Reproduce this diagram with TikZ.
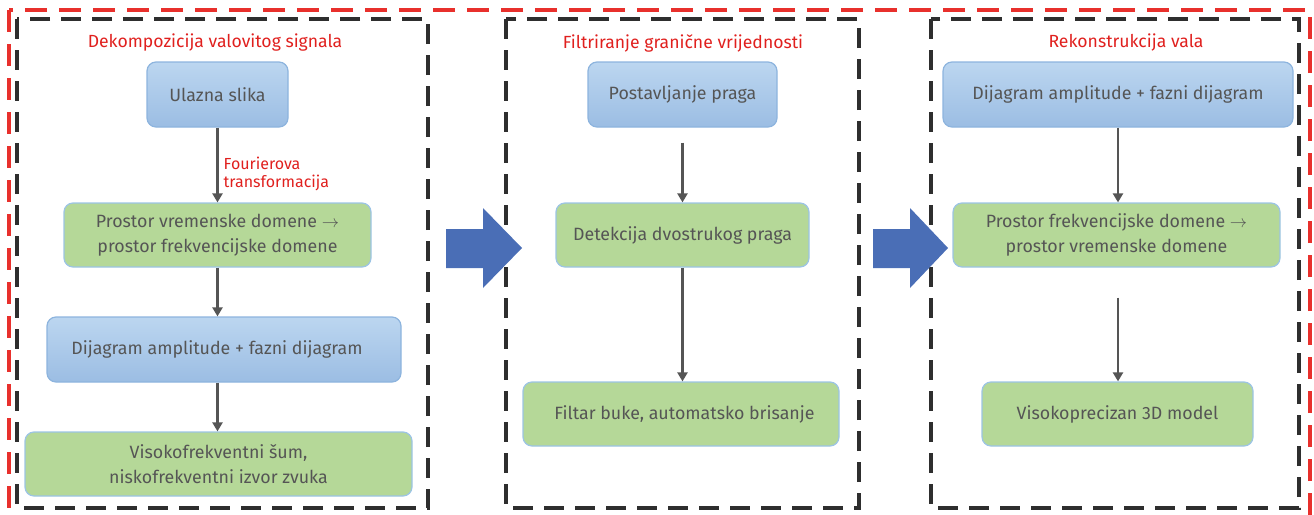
\documentclass[tikz,border=0pt]{standalone}
\usepackage{fontspec}
\setmainfont{Fira Sans}
\usetikzlibrary{arrows.meta}
\definecolor{txtgray}{HTML}{555555}
\definecolor{titlered}{HTML}{E0201E}
\definecolor{framered}{HTML}{E8302C}
\definecolor{framedark}{HTML}{2E2E2E}
\definecolor{bluetop}{HTML}{BCD6F0}
\definecolor{bluebot}{HTML}{9BBDE3}
\definecolor{blueedge}{HTML}{8DB4DE}
\definecolor{greenfill}{HTML}{B5D898}
\definecolor{greenedge}{HTML}{9CC4E4}
\definecolor{bigarrow}{HTML}{4A6EB6}
\definecolor{linkgray}{HTML}{555555}
\tikzset{
  boxtext/.style={text=txtgray, font=\fontsize{17.8}{25}\selectfont, align=center},
  bluebox/.style={boxtext, rectangle, rounded corners=9pt, draw=blueedge, line width=1.2pt,
    top color=bluetop, bottom color=bluebot, inner sep=0pt},
  greenbox/.style={boxtext, rectangle, rounded corners=9pt, draw=greenedge, line width=1.2pt,
    fill=greenfill, inner sep=0pt},
  stagetitle/.style={text=titlered, font=\fontsize{17.6}{20}\selectfont},
  stageframe/.style={draw=framedark, line width=3.2pt, dash pattern=on 20pt off 11pt},
  outerframe/.style={draw=framered, line width=3.2pt, dash pattern=on 22pt off 12pt},
  link/.style={draw=linkgray, line width=2.4pt, -{Triangle[length=9pt,width=10pt]}},
  bigarrowshape/.style={fill=bigarrow, draw=none},
}
\begin{document}
\begin{tikzpicture}[x=1pt,y=-1pt]
\useasboundingbox (0,0) rectangle (1314,514);
\clip (0,0) rectangle (1314,514);

% outer red frame (its bottom edge runs below the page)
\draw[outerframe] (9,10) rectangle (1310,530);

% the three stage frames
\draw[stageframe] (17,19) rectangle (428,508);
\draw[stageframe] (506,19) rectangle (859,508);
\draw[stageframe] (931,19) rectangle (1299,508);

% stage titles
\node[stagetitle] (t1) at (215,43) {Dekompozicija valovitog signala};
\node[stagetitle] (t2) at (683,43) {Filtriranje granične vrijednosti};
\node[stagetitle] (t3) at (1126,43) {Rekonstrukcija vala};

% stage 1
\node[bluebox, minimum width=141pt, minimum height=65pt] (a1) at (217.5,94.5) {Ulazna slika};
\node[greenbox, minimum width=307pt, minimum height=64pt] (a2) at (217.5,235) {Prostor vremenske domene $\rightarrow$\\prostor frekvencijske domene};
\node[bluebox, minimum width=354pt, minimum height=65pt] (a3) at (224,349.5) {};
\node[boxtext] (a3txt) at (217,349.5) {Dijagram amplitude + fazni dijagram};
\node[greenbox, minimum width=387pt, minimum height=64pt] (a4) at (218.5,464) {Visokofrekventni šum,\\niskofrekventni izvor zvuka};

\draw[link] (a1.south) -- (a2.north)
  node[pos=0.62, right=3pt, text=titlered, font=\fontsize{16}{18}\selectfont, align=left, inner sep=2pt] (lf) {Fourierova\\transformacija};
\draw[link] (a2.south) -- (a2.south |- a3.north);
\draw[link] (a2.south |- a3.south) -- (a2.south |- a4.north);

% stage 2
\node[bluebox, minimum width=189pt, minimum height=65pt] (b1) at (682.5,94.5) {Postavljanje praga};
\node[greenbox, minimum width=253pt, minimum height=64pt] (b2) at (682.5,235) {Detekcija dvostrukog praga};
\node[greenbox, minimum width=316pt, minimum height=64pt] (b3) at (681,414) {};
\node[boxtext] (b3txt) at (684.5,414) {Filtar buke, automatsko brisanje};

\draw[link, shorten <=15pt] (b1.south) -- (b2.north);
\draw[link] (b2.south) -- (b2.south |- b3.north);

% stage 3
\node[bluebox, minimum width=350pt, minimum height=65pt] (c1) at (1118,94.5) {Dijagram amplitude + fazni dijagram};
\node[greenbox, minimum width=327pt, minimum height=64pt] (c2) at (1116.5,235) {Prostor frekvencijske domene $\rightarrow$\\prostor vremenske domene};
\node[greenbox, minimum width=271pt, minimum height=64pt] (c3) at (1117.5,414) {Visokoprecizan 3D model};

\draw[link] (c1.south) -- (c1.south |- c2.north);
\draw[link, shorten <=30pt] (c1.south |- c2.south) -- (c1.south |- c3.north);

% block arrows between the stages
\fill[bigarrowshape] (446,229) -- (483,229) -- (483,208) -- (522,248) -- (483,288) -- (483,268) -- (446,268) -- cycle;
\fill[bigarrowshape] (873,229) -- (910,229) -- (910,208) -- (948,248) -- (910,288) -- (910,268) -- (873,268) -- cycle;
\end{tikzpicture}
\end{document}
